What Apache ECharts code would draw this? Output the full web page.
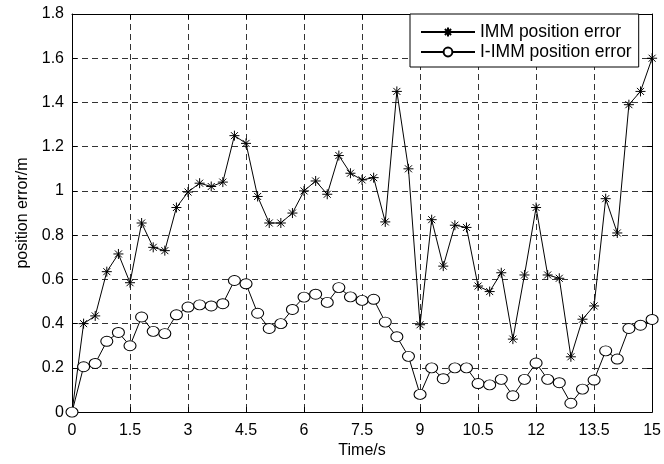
<!DOCTYPE html>
<html>
<head>
<meta charset="utf-8">
<script src="https://cdn.jsdelivr.net/npm/echarts@6/dist/echarts.min.js"></script>
<style>
html,body{margin:0;padding:0;background:#fff;}
#chart{width:664px;height:464px;}
</style>
</head>
<body>
<div id="chart"></div>
<script>
var times = [0,0.3,0.6,0.9,1.2,1.5,1.8,2.1,2.4,2.7,3,3.3,3.6,3.9,4.2,4.5,4.8,5.1,5.4,5.7,6,6.3,6.6,6.9,7.2,7.5,7.8,8.1,8.4,8.7,9,9.3,9.6,9.9,10.2,10.5,10.8,11.1,11.4,11.7,12,12.3,12.6,12.9,13.2,13.5,13.8,14.1,14.4,14.7,15];
var immError = [0,0.40,0.435,0.635,0.715,0.585,0.855,0.745,0.73,0.925,0.995,1.035,1.02,1.04,1.25,1.215,0.975,0.855,0.855,0.90,1.0,1.045,0.985,1.16,1.08,1.05,1.06,0.86,1.45,1.10,0.395,0.87,0.66,0.845,0.835,0.57,0.545,0.63,0.33,0.62,0.925,0.62,0.605,0.25,0.42,0.48,0.965,0.81,1.39,1.45,1.60];
var iimmError = [0,0.205,0.22,0.32,0.36,0.30,0.43,0.365,0.355,0.44,0.475,0.485,0.48,0.49,0.595,0.58,0.447,0.378,0.40,0.464,0.52,0.533,0.496,0.563,0.521,0.505,0.51,0.407,0.341,0.252,0.08,0.20,0.151,0.20,0.20,0.129,0.123,0.148,0.074,0.148,0.222,0.148,0.133,0.04,0.104,0.145,0.277,0.24,0.378,0.393,0.419];
var seriesNames = ['IMM position error','I-IMM position error'];
var xLabel = 'Time/s';
var yLabel = 'position error/m';

function pairs(xs, ys){ return xs.map(function(x,i){ return [x, ys[i]]; }); }

var FONT = 'Liberation Sans';
var chart = echarts.init(document.getElementById('chart'), null, {renderer:'canvas'});
var starPath = 'path://M-1,0L1,0M0,-1L0,1M-0.7,-0.7L0.7,0.7M-0.7,0.7L0.7,-0.7';

var option = {
  backgroundColor:'#fff',
  animation:false,
  grid:{left:72, right:10, top:14, bottom:44, containLabel:false},
  legend:{
    left:410, top:14, orient:'vertical',
    itemWidth:54, itemHeight:11, itemGap:2,
    padding:[9,7,6,10],
    borderColor:'#000', borderWidth:1, backgroundColor:'#fff',
    textStyle:{fontFamily:FONT, fontSize:17.5, color:'#000'},
    data:seriesNames
  },
  xAxis:[{
    type:'value', min:0, max:15, interval:1.5,
    name:xLabel, nameLocation:'middle', nameGap:30,
    nameTextStyle:{fontFamily:FONT, fontSize:16, color:'#000'},
    axisLine:{show:true, onZero:false, lineStyle:{color:'#000', width:1}},
    axisTick:{show:true, inside:true, length:5, lineStyle:{color:'#000'}},
    axisLabel:{fontFamily:FONT, fontSize:16, color:'#000', margin:10},
    splitLine:{show:true, lineStyle:{color:'#333', type:[6,4], width:1}}
  },{
    type:'value', min:0, max:15, interval:1.5, position:'top',
    axisLine:{show:true, onZero:false, lineStyle:{color:'#000', width:1}},
    axisTick:{show:true, inside:true, length:5, lineStyle:{color:'#000'}},
    axisLabel:{show:false}, splitLine:{show:false}
  }],
  yAxis:[{
    type:'value', min:0, max:1.8, interval:0.2,
    name:yLabel, nameLocation:'middle', nameGap:41,
    nameTextStyle:{fontFamily:FONT, fontSize:16, color:'#000'},
    axisLine:{show:true, onZero:false, lineStyle:{color:'#000', width:1}},
    axisTick:{show:true, inside:true, length:5, lineStyle:{color:'#000'}},
    axisLabel:{fontFamily:FONT, fontSize:16, color:'#000', margin:8},
    splitLine:{show:true, lineStyle:{color:'#333', type:[6,4], width:1}}
  },{
    type:'value', min:0, max:1.8, interval:0.2, position:'right',
    axisLine:{show:true, onZero:false, lineStyle:{color:'#000', width:1}},
    axisTick:{show:true, inside:true, length:5, lineStyle:{color:'#000'}},
    axisLabel:{show:false}, splitLine:{show:false}
  }],
  series:[{
    name:seriesNames[0], type:'line', data:pairs(times, immError),
    symbol:starPath, symbolSize:10, showAllSymbol:true,
    lineStyle:{color:'#000', width:1},
    itemStyle:{color:'#000', borderColor:'#000', borderWidth:1},
    emphasis:{disabled:true}
  },{
    name:seriesNames[1], type:'line', data:pairs(times, iimmError),
    symbol:'circle', symbolSize:[12,10], showAllSymbol:true,
    lineStyle:{color:'#000', width:1},
    itemStyle:{color:'#fff', borderColor:'#000', borderWidth:1},
    emphasis:{disabled:true}
  }]
};
chart.setOption(option);
</script>
</body>
</html>
